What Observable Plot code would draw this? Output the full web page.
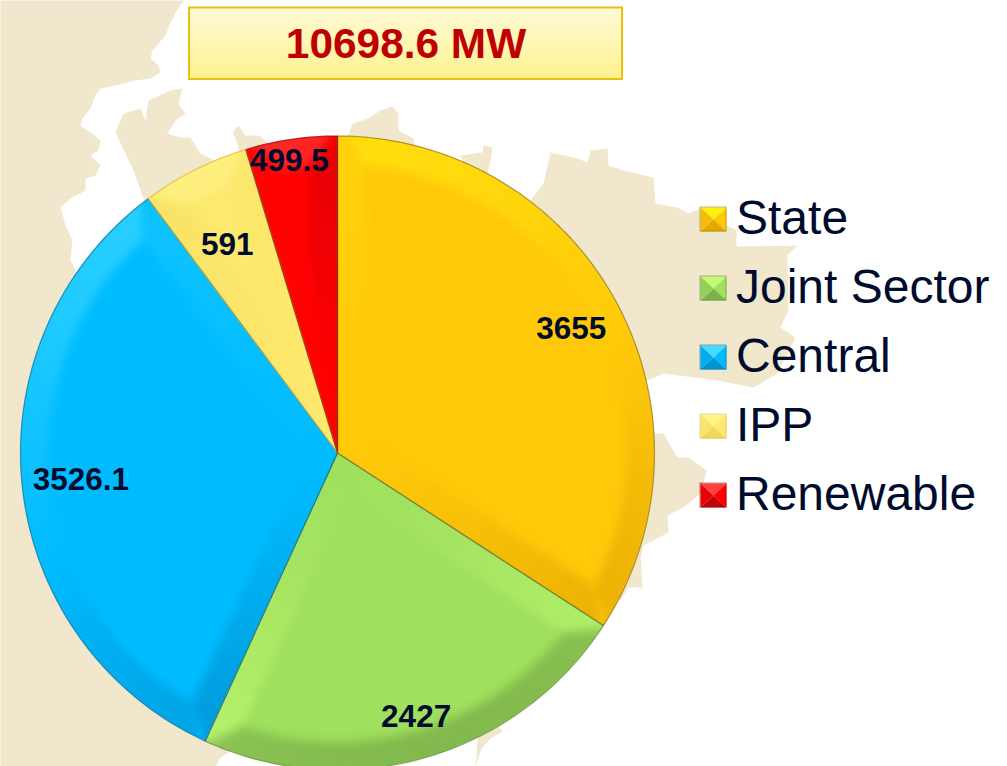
<!DOCTYPE html>
<html>
<head>
<meta charset="utf-8">
<script src="https://cdn.jsdelivr.net/npm/d3@7"></script>
<script src="https://cdn.jsdelivr.net/npm/@observablehq/plot@0.6"></script>
<style>html,body{margin:0;padding:0;background:#fff}svg{display:block}</style>
</head>
<body>
<div id="chart"></div>
<script>
const categories = ["State", "Joint Sector", "Central", "IPP", "Renewable"];
const values = [3655, 2427, 3526.1, 591, 499.5];
const valueLabels = ["3655", "2427", "3526.1", "591", "499.5"];
const totalLabel = "10698.6 MW";

const sliceColors = ["#ffc90a", "#9fe05e", "#00bcff", "#fde96e", "#ff0000"];
const liftColors = ["#ffee10", "#c4fb74", "#45dcff", "#fff48a", "#ff4040"];
const shadeColors = ["#d99a00", "#6f9f42", "#0083c0", "#ecd055", "#a80010"];
const edgeColors = ["#8d7416", "#64843c", "#0a6f9c", "#d8b830", "#8a1010"];
const labelRadius = [266, 275, 258, 236, 295];
const labelShift = [[0, 3], [2, 0], [0, 0], [-4, 3], [-5, 0]];

const W = 1007, H = 766, CX = 337, CY = 452.5, R = 317, BEVEL = 28;

// Background map
const landRings = [
  [[0,0],[183,0],[175,12],[170,22],[165,35],[152,50],[150,58],[158,65],[160,72],[150,78],[135,80],[120,84],[100,88],[95,95],[90,108],[82,118],[80,125],[90,132],[100,140],[98,150],[90,155],[100,165],[95,175],[85,178],[85,190],[70,198],[60,207],[65,225],[72,240],[70,260],[80,280],[200,500],[240,700],[228,745],[228,752],[220,757],[215,766],[0,766]],
  [[143,198],[133,170],[122,147],[115,132],[123,113],[140,108],[145,120],[148,100],[170,90],[182,88],[178,103],[185,113],[175,120],[167,133],[180,137],[190,137],[200,153],[210,158],[235,170],[160,230]],
  [[232,132],[238,125],[245,135],[258,135],[267,142],[262,160],[240,160],[237,142]],
  [[348,150],[348,135],[352,123],[368,118],[380,110],[392,106],[398,113],[398,130],[413,138],[416,160]],
  [[460,155],[482,152],[483,145],[492,147],[490,160],[487,172],[470,180]],
  [[525,215],[532,197],[543,183],[550,152],[577,158],[587,162],[590,150],[607,148],[608,165],[623,170],[653,177],[655,203],[677,207],[688,213],[700,208],[712,215],[726,225],[736,230],[736,246],[797,245],[787,255],[788,310],[780,327],[795,337],[777,373],[753,387],[717,380],[663,373],[648,380],[500,320]],
  [[640,420],[655,433],[663,433],[677,457],[688,457],[706,470],[700,493],[683,507],[667,515],[668,532],[643,545],[640,557],[642,587],[628,587],[620,600],[580,560]],
  [[475,766],[481,748],[490,738],[502,731],[480,700]]
];

const rad = d => d * Math.PI / 180;
const pt = (a, r) => ({x: CX + r * Math.sin(a), y: CY - r * Math.cos(a)});
const total = d3.sum(values);
let acc = 0;
const slices = categories.map((name, i) => {
  const a0 = acc / total * 2 * Math.PI;
  acc += values[i];
  const a1 = acc / total * 2 * Math.PI;
  return {name, i, a0, a1};
});

function outline(s) {
  const n = Math.max(8, Math.ceil((s.a1 - s.a0) / rad(1)));
  const pts = [{x: CX, y: CY}];
  for (let k = 0; k <= n; k++) pts.push(pt(s.a0 + (s.a1 - s.a0) * k / n, R));
  pts.push({x: CX, y: CY});
  return pts.map(p => ({...p, name: s.name}));
}

const LX = -0.35, LY = -0.94;
function shadeStyle(s, nx, ny, k) {
  const d = nx * LX + ny * LY;
  return {c: d >= 0 ? liftColors[s.i] : shadeColors[s.i], o: Math.min(1, Math.abs(d) * k)};
}

function bevelPolys(s) {
  const out = [];
  let id = 0;
  const ri = R - BEVEL, delta = Math.asin(BEVEL / ri);
  const half = (s.a1 - s.a0) / 2;
  const push = (pts, st) => { id++; pts.forEach(p => out.push({x: p.x, y: p.y, id, c: st.c, o: st.o})); };
  const ext = 10;
  const tanH = Math.tan(Math.min(half, rad(80)));
  const dKnee = ri * Math.cos(delta);
  const strip = (a, nx, ny) => {
    const ex = Math.sin(a), ey = -Math.cos(a);
    const st = 10;
    const width = d => Math.max(0, Math.min(BEVEL, d * tanH, (R - d) * BEVEL / (R - dKnee)));
    for (let k = 0; k < st; k++) {
      const d0 = R * k / st, d1 = R * (k + 1) / st;
      const P = (d, w) => ({x: CX + ex * d - nx * w, y: CY + ey * d - ny * w});
      const base = shadeStyle(s, nx, ny, 0.85);
      const f = Math.pow((k + 0.5) / st, 1.3);
      push([P(d0, -ext), P(d1, -ext), P(d1, width(d1)), P(d0, width(d0))], {c: base.c, o: base.o * f});
    }
  };
  strip(s.a0, -Math.cos(s.a0), -Math.sin(s.a0));
  strip(s.a1, Math.cos(s.a1), Math.sin(s.a1));
  // outer arc band
  const m = Math.max(4, Math.ceil((s.a1 - s.a0) / rad(3)));
  for (let k = 0; k < m; k++) {
    const t0 = k / m, t1 = (k + 1) / m;
    const o0 = s.a0 + (s.a1 - s.a0) * t0, o1 = s.a0 + (s.a1 - s.a0) * t1;
    const i0 = s.a0 + delta + (s.a1 - s.a0 - 2 * delta) * t0, i1 = s.a0 + delta + (s.a1 - s.a0 - 2 * delta) * t1;
    const am = (o0 + o1) / 2;
    push([pt(o0, R + ext), pt(o1, R + ext), pt(i1, ri), pt(i0, ri)], shadeStyle(s, Math.sin(am), -Math.cos(am), 0.6));
  }
  return out;
}

function clipTo(s) {
  const pts = outline(s);
  return (index, scales, values_, dims, ctx, next) => {
    const g = next(index, scales, values_, dims, ctx);
    const id = "clip-" + s.i;
    const ns = "http://www.w3.org/2000/svg";
    const cp = document.createElementNS(ns, "clipPath");
    cp.setAttribute("id", id);
    const path = document.createElementNS(ns, "path");
    path.setAttribute("d", d3.line(p => scales.x(p.x), p => scales.y(p.y))(pts) + "Z");
    cp.appendChild(path);
    const wrap = document.createElementNS(ns, "g");
    wrap.setAttribute("clip-path", "url(#" + id + ")");
    wrap.appendChild(cp);
    wrap.appendChild(g);
    return wrap;
  };
}

// Background land
const landPts = landRings.flatMap((ring, id) => ring.map(([x, y]) => ({x, y, id})));

// Legend geometry
const ICON = {x0: 700, x1: 726, y0: 207, size: 24, step: 69};
const legendPts = [];
categories.forEach((name, i) => {
  const x0 = ICON.x0, x1 = ICON.x1, y0 = ICON.y0 + i * ICON.step, y1 = y0 + ICON.size;
  const mx = (x0 + x1) / 2, my = (y0 + y1) / 2;
  const base = sliceColors[i];
  const facets = [
    [[x0,y0],[x1,y0],[mx,my], liftColors[i]],
    [[x1,y0],[x1,y1],[mx,my], base],
    [[x1,y1],[x0,y1],[mx,my], d3.interpolateRgb(base, shadeColors[i])(0.7)],
    [[x0,y1],[x0,y0],[mx,my], d3.interpolateRgb(base, shadeColors[i])(0.25)]
  ];
  facets.forEach((f, j) => {
    for (let q = 0; q < 3; q++) legendPts.push({x: f[q][0], y: f[q][1], id: i * 10 + j, c: f[3]});
  });
});
const legendBoxes = categories.map((name, i) => ({
  x1: ICON.x0, x2: ICON.x1, y1: ICON.y0 + i * ICON.step, y2: ICON.y0 + i * ICON.step + ICON.size, c: edgeColors[i]
}));

const sliceLabels = slices.map(s => {
  const p = pt((s.a0 + s.a1) / 2, labelRadius[s.i]);
  return {x: p.x + labelShift[s.i][0], y: p.y + labelShift[s.i][1], text: valueLabels[s.i]};
});
const legendTexts = categories.map((name, i) => ({
  x: 735.5, y: ICON.y0 + i * ICON.step + 11, text: name
}));

const defs = () => {
  const d = d3.create("svg:defs");
  const g = d.append("linearGradient").attr("id", "boxGrad").attr("x1", 0).attr("y1", 0).attr("x2", 0).attr("y2", 1);
  g.append("stop").attr("offset", "0%").attr("stop-color", "#fffad8");
  g.append("stop").attr("offset", "100%").attr("stop-color", "#fdf28e");
  return d.node();
};

const FONT = "Liberation Sans";
const INK = "#000c2d";

const chart = Plot.plot({
  width: W,
  height: H,
  margin: 0,
  style: {background: "#ffffff", fontFamily: FONT},
  x: {domain: [0, W], range: [0, W], axis: null},
  y: {domain: [0, H], range: [0, H], axis: null},
  color: {domain: categories, range: sliceColors},
  marks: [
    defs,
    Plot.line(landPts, {x: "x", y: "y", z: "id", fill: "#f0e7cc", stroke: "none", curve: "linear", imageFilter: "blur(0.7px)"}),
    Plot.rect([{x1: 189, x2: 622, y1: 7.5, y2: 79}], {x1: "x1", x2: "x2", y1: "y1", y2: "y2", fill: "url(#boxGrad)", stroke: "#e9bf10", strokeWidth: 2}),
    Plot.text([{x: 405.5, y: 44, text: totalLabel}], {x: "x", y: "y", text: "text", fill: "#c00000", fontSize: 42.4, fontWeight: "bold", fontFamily: FONT, textAnchor: "middle"}),
    Plot.line(slices.flatMap(outline), {x: "x", y: "y", z: "name", fill: "name", stroke: "none", curve: "linear"}),
    ...slices.map(s => Plot.line(bevelPolys(s), {
      x: "x", y: "y", z: "id",
      fill: {value: "c", scale: null},
      fillOpacity: {value: "o", scale: null},
      stroke: "none",
      curve: "linear",
      imageFilter: "blur(5px)",
      render: clipTo(s)
    })),
    ...slices.map(s => Plot.line(outline(s), {x: "x", y: "y", stroke: edgeColors[s.i], strokeWidth: 1.2, strokeOpacity: 0.7, fill: "none", curve: "linear"})),
    Plot.text(sliceLabels, {x: "x", y: "y", text: "text", fill: INK, fontSize: 31.5, fontWeight: "bold", fontFamily: FONT, textAnchor: "middle"}),
    Plot.line(legendPts, {x: "x", y: "y", z: "id", fill: {value: "c", scale: null}, stroke: "none", curve: "linear"}),
    Plot.rect(legendBoxes, {x1: "x1", x2: "x2", y1: "y1", y2: "y2", fill: "none", stroke: {value: "c", scale: null}, strokeWidth: 1, strokeOpacity: 0.55}),
    Plot.text(legendTexts, {x: "x", y: "y", text: "text", fill: INK, fontSize: 48, fontFamily: FONT, textAnchor: "start"})
  ]
});
document.getElementById("chart").appendChild(chart);
</script>
</body>
</html>
